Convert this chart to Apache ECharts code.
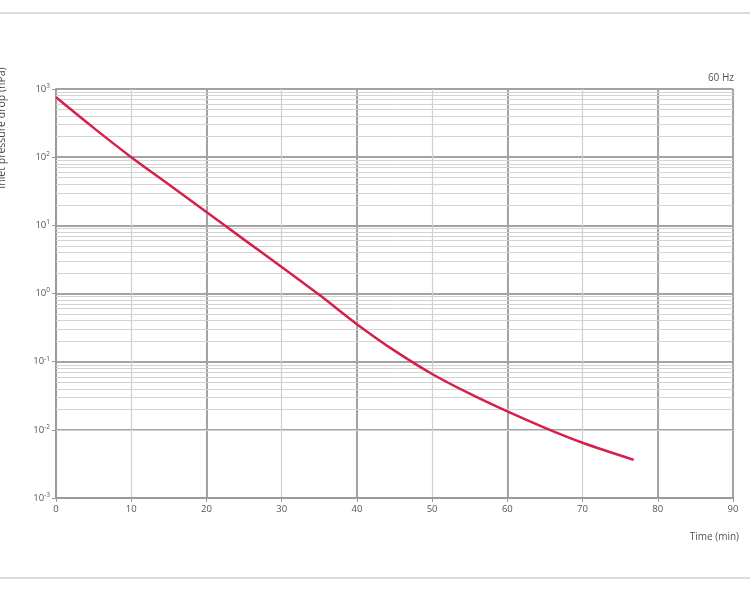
<!DOCTYPE html>
<html><head><meta charset="utf-8">
<script src="https://cdn.jsdelivr.net/npm/echarts@6/dist/echarts.min.js"></script>
<style>html,body{margin:0;padding:0;background:#fff}#c{width:750px;height:595px}</style>
</head><body><div id="c"></div>
<script>
// Data
var timeMin = [0, 5, 10, 15, 20, 25, 30, 35, 40, 45, 50, 55, 60, 65, 70, 76.8];
var pressureHPa = [755, 269, 100, 39.8, 15.7, 6.17, 2.45, 0.955, 0.355, 0.145, 0.066, 0.0339, 0.0186, 0.0107, 0.00646, 0.00363];
var xTicks = [0, 10, 20, 30, 40, 50, 60, 70, 80, 90];
var decadeExponents = [-3, -2, -1, 0, 1, 2, 3];
var minorMultipliers = [2, 3, 4, 5, 6, 7, 8, 9];
var seriesLabel = '60 Hz';
var xTitle = 'Time (min)';
var yTitle = 'Inlet pressure drop (hPa)';

var minorLines = [];
decadeExponents.slice(0, -1).forEach(function (e) {
  minorMultipliers.forEach(function (m) { minorLines.push({ yAxis: m * Math.pow(10, e) }); });
});
var pts = timeMin.map(function (t, i) { return [t, pressureHPa[i]]; });

var chart = echarts.init(document.getElementById('c'));
var font = 'Open Sans';
chart.setOption({
  animation: false,
  backgroundColor: '#fff',
  grid: { left: 56, right: 17, top: 89, bottom: 97 },
  xAxis: [{
    type: 'value', min: xTicks[0], max: xTicks[xTicks.length - 1], interval: 10,
    axisLine: { show: true, lineStyle: { color: '#9a9a9a', width: 2 } },
    axisTick: { show: true, length: 4, lineStyle: { color: '#9a9a9a', width: 1 } },
    axisLabel: { color: '#555', fontSize: 9.5, fontFamily: font, margin: 6 },
    splitLine: { show: true, lineStyle: { color: '#cfcfcf', width: 1.2 } }
  }, {
    type: 'value', min: xTicks[0], max: xTicks[xTicks.length - 1], interval: 20, position: 'top',
    axisLine: { show: false }, axisTick: { show: false }, axisLabel: { show: false },
    splitLine: { show: true, lineStyle: { color: '#a3a3a3', width: 2 } }
  }],
  yAxis: {
    type: 'log', logBase: 10, min: 0.001, max: 1000,
    axisLine: { show: true, lineStyle: { color: '#9a9a9a', width: 2 } },
    axisTick: { show: true, length: 4, lineStyle: { color: '#9a9a9a', width: 1 } },
    axisLabel: {
      color: '#555', fontSize: 9.5, fontFamily: font, margin: 6,
      formatter: function (v) {
        var e = Math.round(Math.log10(v));
        return '{b|10}{s|' + String(e) + '}';
      },
      rich: {
        b: { fontSize: 9.5, color: '#555', fontFamily: font },
        s: { fontSize: 6.5, color: '#555', fontFamily: font, verticalAlign: 'top', padding: [0, 0, 6, 0] }
      }
    },
    splitLine: { show: true, lineStyle: { color: '#a3a3a3', width: 2 } }
  },
  series: [{
    type: 'line', data: [], z: 1, silent: true,
    markLine: {
      silent: true, symbol: 'none', label: { show: false }, animation: false,
      lineStyle: { color: '#d3d3d3', width: 1, type: 'solid' },
      data: minorLines
    }
  }, {
    type: 'line', name: seriesLabel, data: pts, smooth: 0.3, showSymbol: false, z: 5,
    lineStyle: { color: '#d6204b', width: 2.5 }
  }],
  graphic: [
    { type: 'rect', left: 0, top: 12, shape: { width: 750, height: 2 }, style: { fill: '#d4dedc' } },
    { type: 'rect', left: 0, top: 577, shape: { width: 750, height: 2 }, style: { fill: '#d4dedc' } },
    { type: 'text', right: 16, top: 73, style: { text: seriesLabel, fontSize: 10, fill: '#555', fontFamily: font } },
    { type: 'text', right: 11, top: 532, style: { text: xTitle, fontSize: 10, fill: '#555', fontFamily: font } },
    { type: 'text', x: 2, y: 128, rotation: Math.PI / 2, style: { text: yTitle, fontSize: 10.5, fill: '#444', fontFamily: font, align: 'center', verticalAlign: 'middle' } }
  ]
});
</script></body></html>
